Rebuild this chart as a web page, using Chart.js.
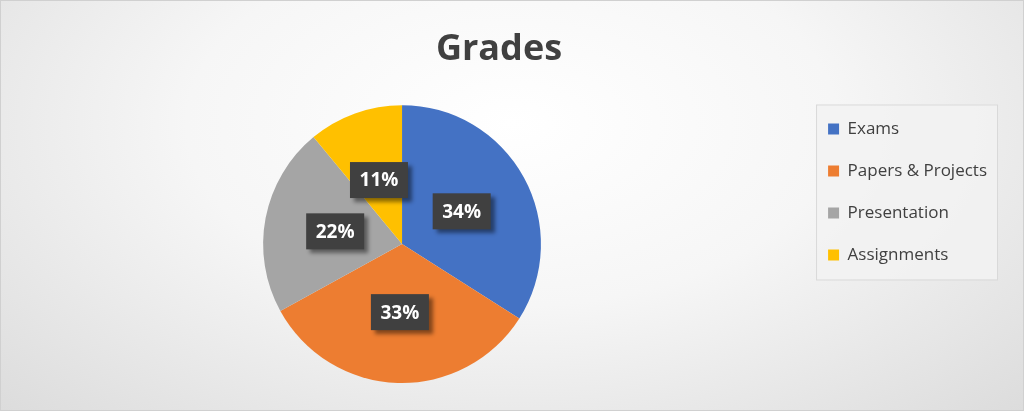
<!DOCTYPE html>
<html>
<head>
<meta charset="utf-8">
<script src="https://cdn.jsdelivr.net/npm/chart.js@4/dist/chart.umd.min.js"></script>
<style>
  html, body { margin: 0; padding: 0; }
  #wrap {
    width: 1022px; height: 409px; border: 1px solid #d0d0d0;
    background: radial-gradient(ellipse at 50% 30%, #ffffff 0%, #f6f6f6 45%, #dcdcdc 100%);
  }
</style>
</head>
<body>
<div id="wrap"><canvas id="myChart" width="1022" height="409"></canvas></div>
<script>
const categories = ['Exams', 'Papers & Projects', 'Presentation', 'Assignments'];
const shares = [34, 33, 22, 11];
const colors = ['#4472c4', '#ed7d31', '#a5a5a5', '#ffc000'];

// legend frame + dark percent boxes
const extras = {
  id: 'extras',
  beforeDraw(chart) {
    const boxes = chart.legend.legendHitBoxes, ctx = chart.ctx;
    if (!boxes || !boxes.length) return;
    const x0 = Math.min(...boxes.map(b => b.left)) - 12;
    const x1 = Math.max(...boxes.map(b => b.left + b.width)) + 10;
    const y0 = Math.min(...boxes.map(b => b.top)) - 16;
    const y1 = Math.max(...boxes.map(b => b.top + b.height)) + 16;
    ctx.save();
    ctx.fillStyle = 'rgba(242,242,242,0.85)';
    ctx.strokeStyle = '#d9d9d9';
    ctx.fillRect(x0, y0, x1 - x0, y1 - y0);
    ctx.strokeRect(x0 + 0.5, y0 + 0.5, x1 - x0, y1 - y0);
    ctx.restore();
  },
  afterDatasetsDraw(chart) {
    const ctx = chart.ctx;
    const meta = chart.getDatasetMeta(0);
    ctx.save();
    ctx.font = 'bold 19px "Open Sans", sans-serif';
    ctx.textAlign = 'center';
    ctx.textBaseline = 'middle';
    meta.data.forEach((arc, i) => {
      const mid = (arc.startAngle + arc.endAngle) / 2;
      const r = arc.outerRadius * 0.49;
      const x = arc.x + Math.cos(mid) * r;
      const y = arc.y + Math.sin(mid) * r;
      ctx.shadowColor = 'rgba(0,0,0,0.45)';
      ctx.shadowOffsetX = 4; ctx.shadowOffsetY = 4; ctx.shadowBlur = 4;
      ctx.fillStyle = '#404040';
      ctx.fillRect(x - 29, y - 18, 58, 36);
      ctx.shadowColor = 'transparent';
      ctx.fillStyle = '#ffffff';
      ctx.fillText(shares[i] + '%', x, y + 1);
    });
    ctx.restore();
  }
};

new Chart(document.getElementById('myChart').getContext('2d'), {
  type: 'pie',
  data: {
    labels: categories,
    datasets: [{ data: shares, backgroundColor: colors, borderWidth: 0 }]
  },
  options: {
    responsive: false,
    animation: false,
    layout: { padding: { top: 0, bottom: 27, left: 0, right: 26 } },
    plugins: {
      title: {
        display: true, text: 'Grades', color: '#404040',
        font: { family: '"Open Sans", sans-serif', size: 36, weight: 'bold' },
        padding: { top: 27, bottom: 34 }
      },
      legend: {
        position: 'right',
        labels: {
          color: '#404040',
          font: { family: '"Open Sans", sans-serif', size: 17 },
          boxWidth: 11, boxHeight: 11, padding: 25
        }
      },
      tooltip: { enabled: false }
    }
  },
  plugins: [extras]
});
</script>
</body>
</html>
